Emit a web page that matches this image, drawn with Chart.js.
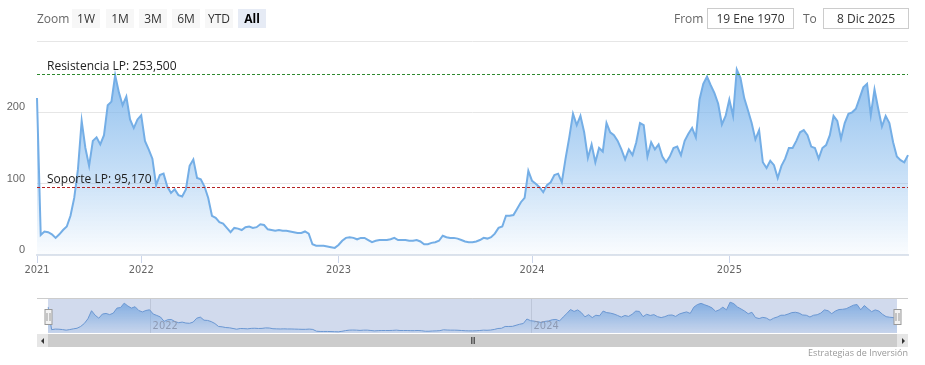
<!DOCTYPE html>
<html>
<head>
<meta charset="utf-8">
<script src="https://cdn.jsdelivr.net/npm/chart.js@4.4.0/dist/chart.umd.min.js"></script>
<style>
  body { margin: 0; background: #fff; font-family: 'Open Sans', sans-serif; }
  #wrap { position: relative; width: 925px; height: 365px; overflow: hidden; }
  canvas { position: absolute; left: 0; }
  #main { top: 0; }
  #nav { top: 296px; }
  .lbl { position: absolute; top: 9px; font-size: 12px; line-height: 19px; color: #666; }
  .btn { position: absolute; top: 9px; width: 28px; height: 19px; background: #f7f7f7; color: #333;
         font-size: 12px; line-height: 19px; text-align: center; }
  .btn.on { background: #e6ebf5; color: #000; font-weight: bold; }
  .box { position: absolute; top: 8px; height: 19px; border: 1px solid #cccccc; color: #333;
         font-size: 12px; line-height: 19px; text-align: center; }
  .sb { position: absolute; top: 334px; height: 13px; }
  .arr { width: 0; height: 0; position: absolute; top: 4px; border-top: 3px solid transparent; border-bottom: 3px solid transparent; }
  #credits { position: absolute; right: 17px; top: 346px; font-size: 9px; color: #999; }
</style>
</head>
<body>
<div id="wrap">
  <canvas id="main" width="925" height="290"></canvas>
  <canvas id="nav" width="925" height="40"></canvas>

  <div class="lbl" style="left:37px">Zoom</div>
  <div class="btn" style="left:72px">1W</div>
  <div class="btn" style="left:106px">1M</div>
  <div class="btn" style="left:139px">3M</div>
  <div class="btn" style="left:172px">6M</div>
  <div class="btn" style="left:205px">YTD</div>
  <div class="btn on" style="left:238px">All</div>

  <div class="lbl" style="left:674px">From</div>
  <div class="box" style="left:707px;width:85px">19 Ene 1970</div>
  <div class="lbl" style="left:803px">To</div>
  <div class="box" style="left:823px;width:84px">8 Dic 2025</div>

  <div class="sb" style="left:37px;width:871px;background:#f2f2f2"></div>
  <div class="sb" style="left:37px;width:11px;background:#e6e6e6"><div class="arr" style="left:4px;border-right:3px solid #333"></div></div>
  <div class="sb" style="left:48px;width:849px;background:#cccccc;text-align:center;font-size:9px;line-height:13px;color:#333;letter-spacing:-1px">III</div>
  <div class="sb" style="left:897px;width:11px;background:#e6e6e6"><div class="arr" style="left:5px;border-left:3px solid #333"></div></div>

  <div id="credits">Estrategias de Inversión</div>
</div>

<script>
// weekly closes, mid 2021 -> Dec 2025 (ordinal axis, one entry per week)
var values = [
  220, 28, 33, 32, 29, 24, 29, 35, 40, 55,
  80, 120, 188, 150, 125, 160, 165, 155, 168, 210,
  215, 252, 228, 210, 222, 190, 178, 190, 196, 160,
  148, 135, 98, 112, 114, 96, 87, 92, 84, 82,
  92, 125, 134, 108, 106, 96, 80, 55, 52, 46,
  44, 38, 32, 38, 37, 35, 39, 40, 38, 39,
  43, 42, 36, 35, 34, 35, 34, 34, 33, 32,
  31, 31, 33, 30, 15, 13, 13, 13, 12, 11,
  10, 14, 20, 24, 25, 24, 22, 24, 24, 21,
  18, 20, 21, 21, 21, 22, 24, 21, 21, 21,
  20, 20, 21, 19, 15, 15, 17, 18, 20, 27,
  25, 24, 24, 23, 21, 19, 18, 18, 19, 21,
  24, 23, 25, 30, 38, 40, 55, 55, 56, 65,
  74, 80, 118, 104, 100, 95, 88, 98, 102, 112,
  114, 102, 135, 165, 198, 182, 195, 172, 136, 155,
  130, 150, 145, 185, 172, 168, 160, 148, 134, 148,
  140, 158, 185, 182, 138, 158, 148, 155, 138, 130,
  138, 150, 152, 140, 160, 170, 178, 165, 218, 240,
  250, 238, 227, 212, 183, 195, 218, 195, 260, 248,
  220, 203, 185, 162, 175, 130, 122, 132, 126, 108,
  125, 135, 150, 150, 160, 172, 175, 168, 152, 150,
  135, 150, 154, 168, 195, 188, 163, 185, 198, 200,
  205, 220, 235, 240, 196, 232, 205, 180, 195, 185,
  158, 138, 133, 130, 140
];
var categories = values.map(function(v, i) { return i; });

// year ticks (index of first week of each year)
var yearLabels = ['2021', '2022', '2023', '2024', '2025'];
var yearIndex = [0, 28, 81, 133, 186];
var navYearLabels = ['2022', '2024'];
var navYearIndex = [28, 133];

var yTicks = [0, 100, 200, 300];

var plotLineValues = [253.5, 95.17];
var plotLineLabels = ['Resistencia LP: 253,500', 'Soporte LP: 95,170'];
var plotLineColors = ['#2f8a2f', '#b52222'];

var base = '124,181,236';
function areaFill(c, a0, a1) {
  var a = c.chart.chartArea;
  if (!a) return 'rgba(' + base + ',0.4)';
  var g = c.chart.ctx.createLinearGradient(0, a.top, 0, a.bottom);
  g.addColorStop(0, 'rgba(' + base + ',' + a0 + ')');
  g.addColorStop(0.6, 'rgba(' + base + ',' + (a0 * 0.47) + ')');
  g.addColorStop(1, 'rgba(' + base + ',' + a1 + ')');
  return g;
}

var plotLines = {
  id: 'plotLines',
  afterDatasetsDraw: function(chart) {
    var ctx = chart.ctx, a = chart.chartArea, y = chart.scales.y;
    ctx.save();
    plotLineValues.forEach(function(v, i) {
      var py = Math.round(y.getPixelForValue(v)) + 0.5;
      ctx.strokeStyle = plotLineColors[i];
      ctx.lineWidth = 1;
      ctx.setLineDash([3, 2]);
      ctx.beginPath();
      ctx.moveTo(a.left, py);
      ctx.lineTo(a.right, py);
      ctx.stroke();
      ctx.setLineDash([]);
      ctx.fillStyle = '#222';
      ctx.font = '12px "Open Sans"';
      ctx.fillText(plotLineLabels[i], a.left + 10, py - 5);
    });
    ctx.restore();
  }
};

new Chart(document.getElementById('main'), {
  type: 'line',
  data: {
    labels: categories,
    datasets: [{
      data: values,
      borderColor: '#74aee6',
      borderWidth: 2,
      pointRadius: 0,
      tension: 0,
      fill: 'origin',
      backgroundColor: function(c) { return areaFill(c, 0.95, 0.03); }
    }]
  },
  options: {
    responsive: false,
    animation: false,
    events: [],
    layout: { padding: { top: 41, right: 17, left: 0, bottom: 0 } },
    plugins: { legend: { display: false }, tooltip: { enabled: false } },
    scales: {
      x: {
        afterFit: function(s) { s.height = 35; },
        border: { color: '#dde3ec', width: 2 },
        grid: { drawOnChartArea: false, drawTicks: true, tickLength: 8, color: '#ccd6eb' },
        ticks: {
          autoSkip: false, maxRotation: 0, padding: 1,
          color: '#666', font: { family: '"Liberation Sans Narrow", "DejaVu Sans Condensed", sans-serif', size: 11 },
          callback: function(v, i) {
            var k = yearIndex.indexOf(i);
            return k >= 0 ? yearLabels[k] : null;
          }
        }
      },
      y: {
        min: 0, max: 300,
        afterFit: function(s) { s.width = 37; },
        afterBuildTicks: function(s) { s.ticks = yTicks.map(function(v) { return { value: v }; }); },
        border: { display: false },
        grid: { color: '#e6e6e6', drawTicks: false },
        ticks: {
          padding: 12, labelOffset: -5, color: '#666',
          font: { family: '"Liberation Sans", sans-serif', size: 11 },
          callback: function(v) { return v === 300 ? '' : v; }
        }
      }
    }
  },
  plugins: [plotLines]
});

var navPlugin = {
  id: 'navPlugin',
  beforeDatasetsDraw: function(chart) {
    var ctx = chart.ctx, a = chart.chartArea, x = chart.scales.x;
    ctx.save();
    ctx.strokeStyle = '#e2e2e2';
    ctx.lineWidth = 1;
    navYearIndex.forEach(function(i) {
      var px = Math.round(x.getPixelForValue(i)) + 0.5;
      ctx.beginPath();
      ctx.moveTo(px, a.top - 3);
      ctx.lineTo(px, a.bottom);
      ctx.stroke();
    });
    ctx.restore();
  },
  afterDatasetsDraw: function(chart) {
    var ctx = chart.ctx, a = chart.chartArea, x = chart.scales.x;
    ctx.save();
    ctx.fillStyle = 'rgba(102,133,194,0.3)';
    ctx.fillRect(a.left, a.top - 3, a.right - a.left, a.bottom - a.top + 3);
    ctx.fillStyle = '#8e9ab3';
    ctx.font = '11px "Liberation Sans Narrow", "DejaVu Sans Condensed", sans-serif';
    navYearIndex.forEach(function(i, k) {
      ctx.fillText(navYearLabels[k], x.getPixelForValue(i) + 3, a.bottom - 4);
    });
    ctx.strokeStyle = '#cccccc';
    ctx.lineWidth = 1;
    ctx.beginPath();
    ctx.moveTo(37, a.top - 2.5);
    ctx.lineTo(908, a.top - 2.5);
    ctx.stroke();
    var yc = Math.round((a.top + a.bottom) / 2);
    [a.left, a.right].forEach(function(hx) {
      hx = Math.round(hx) + 0.5;
      ctx.fillStyle = '#f2f2f2';
      ctx.strokeStyle = '#999';
      ctx.fillRect(hx - 3.5, yc - 7.5, 7, 15);
      ctx.strokeRect(hx - 3.5, yc - 7.5, 7, 15);
      ctx.beginPath();
      ctx.moveTo(hx - 1.5, yc - 4); ctx.lineTo(hx - 1.5, yc + 4);
      ctx.moveTo(hx + 1.5, yc - 4); ctx.lineTo(hx + 1.5, yc + 4);
      ctx.stroke();
    });
    ctx.restore();
  }
};

new Chart(document.getElementById('nav'), {
  type: 'line',
  data: {
    labels: categories,
    datasets: [{
      data: values,
      borderColor: '#6d9fd8',
      borderWidth: 1,
      pointRadius: 0,
      tension: 0,
      fill: 'origin',
      backgroundColor: function(c) { return areaFill(c, 0.9, 0.1); }
    }]
  },
  options: {
    responsive: false,
    animation: false,
    events: [],
    layout: { padding: { left: 48, right: 28, top: 5, bottom: 3 } },
    plugins: { legend: { display: false }, tooltip: { enabled: false } },
    scales: {
      x: { display: false },
      y: { display: false, min: 0, max: 270 }
    }
  },
  plugins: [navPlugin]
});
</script>
</body>
</html>
